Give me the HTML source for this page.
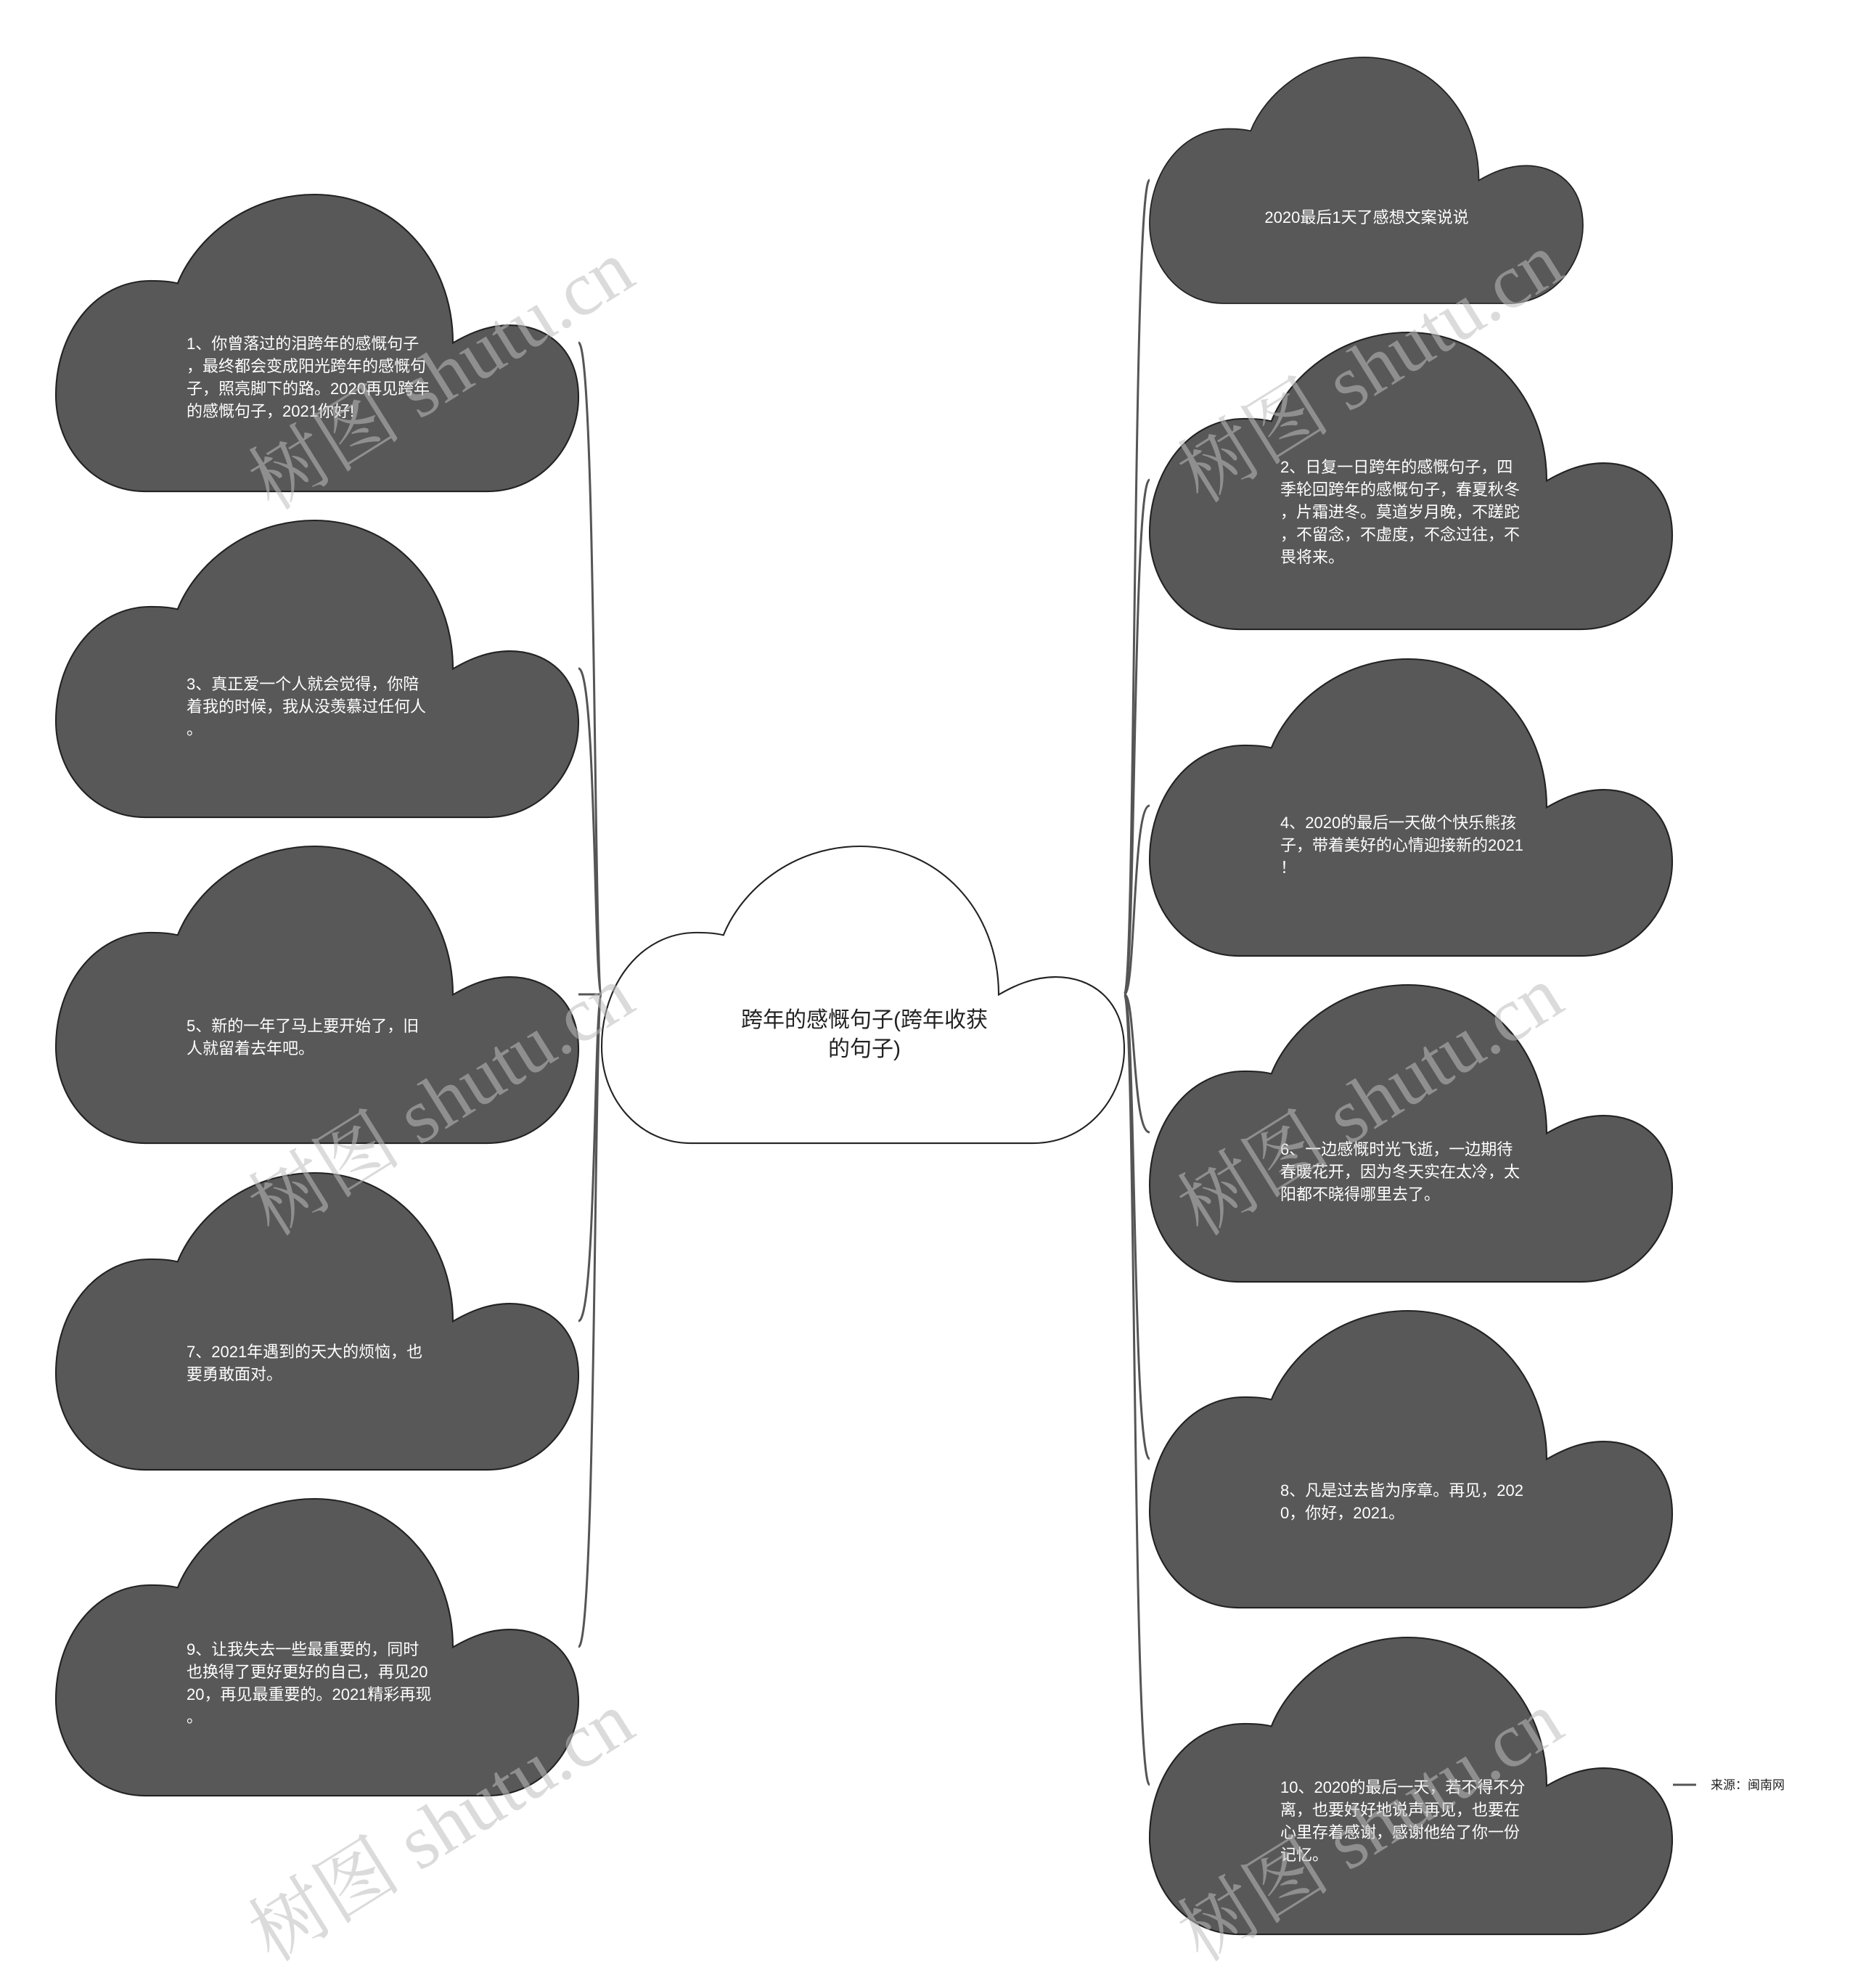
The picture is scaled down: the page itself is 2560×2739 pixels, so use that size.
<!DOCTYPE html>
<html><head><meta charset="utf-8"><style>
body{margin:0;background:#fff}
svg{display:block}
.t{font-family:"Liberation Sans","Noto Sans CJK SC",sans-serif;font-size:22px;fill:#fff}
.wm{font-family:"Liberation Serif","Noto Serif CJK SC",serif;font-size:106px;fill:rgba(190,190,190,0.55)}
</style></head><body>
<svg width="2560" height="2739" viewBox="0 0 2560 2739" xmlns="http://www.w3.org/2000/svg">
<defs>
<path id="cl" d="M70,234 L340,234 C385,234 412,195 412,160 C412,120 385,103 358,103 C340,103 325,110 313,117 C313,50 265,0 204,0 C150,0 110,35 96,70 C88,68 80,68 75,68 C30,68 0,110 0,158 C0,200 30,234 70,234 Z"/>
</defs>
<g fill="none" stroke="#555" stroke-width="3">
<path d="M797,472 C822,472 818,1370 829,1370"/>
<path d="M797,921 C822,921 818,1370 829,1370"/>
<path d="M797,1370 L829,1370"/>
<path d="M797,1820 C822,1820 818,1370 829,1370"/>
<path d="M797,2269 C822,2269 818,1370 829,1370"/>
<path d="M1584,248 C1560,248 1565,1370 1549,1370"/>
<path d="M1584,661 C1560,661 1565,1370 1549,1370"/>
<path d="M1584,1110 C1560,1110 1565,1370 1549,1370"/>
<path d="M1584,1560 C1560,1560 1565,1370 1549,1370"/>
<path d="M1584,2010 C1560,2010 1565,1370 1549,1370"/>
<path d="M1584,2459 C1560,2459 1565,1370 1549,1370"/>
<path d="M2305,2459 L2337,2459"/>
</g>
<g fill="#585858" stroke="#222" stroke-width="1.2">
<use href="#cl" transform="translate(77,268) scale(1.7476,1.748)"/>
<use href="#cl" transform="translate(77,717) scale(1.7476,1.748)"/>
<use href="#cl" transform="translate(77,1166) scale(1.7476,1.748)"/>
<use href="#cl" transform="translate(77,1616) scale(1.7476,1.748)"/>
<use href="#cl" transform="translate(77,2065) scale(1.7476,1.748)"/>
<use href="#cl" transform="translate(1584,79) scale(1.449,1.449)"/>
<use href="#cl" transform="translate(1584,458) scale(1.7476,1.748)"/>
<use href="#cl" transform="translate(1584,908) scale(1.7476,1.748)"/>
<use href="#cl" transform="translate(1584,1357) scale(1.7476,1.748)"/>
<use href="#cl" transform="translate(1584,1806) scale(1.7476,1.748)"/>
<use href="#cl" transform="translate(1584,2256) scale(1.7476,1.748)"/>
</g>
<use href="#cl" transform="translate(829,1166) scale(1.7476,1.748)" fill="#fff" stroke="#222" stroke-width="1.2"/>
<g class="t">
<text x="257" y="481">1、你曾落过的泪跨年的感慨句子</text>
<text x="257" y="512">，最终都会变成阳光跨年的感慨句</text>
<text x="257" y="543">子，照亮脚下的路。2020再见跨年</text>
<text x="257" y="574">的感慨句子，2021你好!</text>
<text x="257" y="950">3、真正爱一个人就会觉得，你陪</text>
<text x="257" y="981">着我的时候，我从没羡慕过任何人</text>
<text x="257" y="1012">。</text>
<text x="257" y="1421">5、新的一年了马上要开始了，旧</text>
<text x="257" y="1452">人就留着去年吧。</text>
<text x="257" y="1870">7、2021年遇到的天大的烦恼，也</text>
<text x="257" y="1901">要勇敢面对。</text>
<text x="257" y="2280">9、让我失去一些最重要的，同时</text>
<text x="257" y="2311">也换得了更好更好的自己，再见20</text>
<text x="257" y="2342">20，再见最重要的。2021精彩再现</text>
<text x="257" y="2373">。</text>
<text x="1883" y="307" text-anchor="middle">2020最后1天了感想文案说说</text>
<text x="1764" y="651">2、日复一日跨年的感慨句子，四</text>
<text x="1764" y="682">季轮回跨年的感慨句子，春夏秋冬</text>
<text x="1764" y="713">，片霜进冬。莫道岁月晚，不蹉跎</text>
<text x="1764" y="744">，不留念，不虚度，不念过往，不</text>
<text x="1764" y="775">畏将来。</text>
<text x="1764" y="1141">4、2020的最后一天做个快乐熊孩</text>
<text x="1764" y="1172">子，带着美好的心情迎接新的2021</text>
<text x="1764" y="1203">！</text>
<text x="1764" y="1591">6、一边感慨时光飞逝，一边期待</text>
<text x="1764" y="1622">春暖花开，因为冬天实在太冷，太</text>
<text x="1764" y="1653">阳都不晓得哪里去了。</text>
<text x="1764" y="2061">8、凡是过去皆为序章。再见，202</text>
<text x="1764" y="2092">0，你好，2021。</text>
<text x="1764" y="2470">10、2020的最后一天，若不得不分</text>
<text x="1764" y="2501">离，也要好好地说声再见，也要在</text>
<text x="1764" y="2532">心里存着感谢，感谢他给了你一份</text>
<text x="1764" y="2563">记忆。</text>
</g>
<g style="font-family:'Liberation Sans','Noto Sans CJK SC',sans-serif;font-size:30px;fill:#222" text-anchor="middle">
<text x="1191" y="1415">跨年的感慨句子(跨年收获</text>
<text x="1191" y="1455">的句子)</text>
</g>
<text x="2357" y="2465" style="font-family:'Liberation Sans','Noto Sans CJK SC',sans-serif;font-size:17px;fill:#222">来源：闽南网</text>
<g class="wm">
<text transform="translate(375,705) rotate(-32)">树图 shutu.cn</text>
<text transform="translate(375,1705) rotate(-32)">树图 shutu.cn</text>
<text transform="translate(375,2705) rotate(-32)">树图 shutu.cn</text>
<text transform="translate(1655,695) rotate(-32)">树图 shutu.cn</text>
<text transform="translate(1655,1705) rotate(-32)">树图 shutu.cn</text>
<text transform="translate(1655,2705) rotate(-32)">树图 shutu.cn</text>
</g>
</svg>
</body></html>
